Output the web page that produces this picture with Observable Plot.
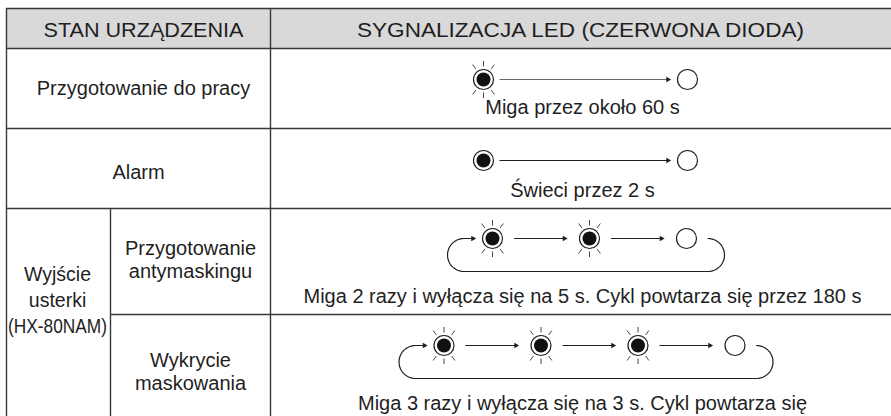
<!DOCTYPE html>
<html><head><meta charset="utf-8">
<script src="https://cdn.jsdelivr.net/npm/d3@7"></script>
<script src="https://cdn.jsdelivr.net/npm/@observablehq/plot@0.6"></script>
<style>
html,body{margin:0;padding:0;background:#fff;}
#chart svg{display:block;}
</style>
</head><body><div id="chart"></div>
<script>
// ---- data ----
const headers = ["STAN URZĄDZENIA", "SYGNALIZACJA LED (CZERWONA DIODA)"];
const states = ["Przygotowanie do pracy", "Alarm", "Przygotowanie\nantymaskingu", "Wykrycie\nmaskowania"];
const groupLabel = ["Wyjście", "usterki", "(HX-80NAM)"];
const ledSequences = [["blink","off"], ["on","off"], ["blink","blink","off"], ["blink","blink","blink","off"]];
const cycles = [false, false, true, true];
const descriptions = [
  "Miga przez około 60 s",
  "Świeci przez 2 s",
  "Miga 2 razy i wyłącza się na 5 s. Cykl powtarza się przez 180 s",
  "Miga 3 razy i wyłącza się na 3 s. Cykl powtarza się"
];

// ---- layout (pixels) ----
const W = 891, H = 416;
const colX = {left: 6, sub: 110, mid: 270, right: W};
const rowY = [8, 48, 128, 208, 314, H + 2];
const ledY = [79, 160, 238, 345];
const descY = [107, 190, 296, 403];
const stateY = [87, 171, 259, 371];
const stateX = [143, 138, 190, 190];
const ink = "#1f1f1f", lineCol = "#383838";
const font = "'Liberation Sans', Arial, Helvetica, sans-serif";

const hLines = [
  {y: rowY[0], x1: colX.left, x2: W},
  {y: rowY[1], x1: colX.left, x2: W},
  {y: rowY[2], x1: colX.left, x2: W},
  {y: rowY[3], x1: colX.left, x2: W},
  {y: rowY[4], x1: colX.sub, x2: W}
];
const vLines = [
  {x: colX.left, y1: rowY[0], y2: H},
  {x: colX.mid, y1: rowY[0], y2: H},
  {x: colX.sub, y1: rowY[3], y2: H}
];

// LED positions
const leds = [], arrows = [], heads = [], rays = [], loops = [];
ledSequences.forEach((seq, r) => {
  const n = seq.length;
  const cyc = cycles[r];
  const spacing = cyc ? 97 : 204;
  const cx = cyc ? 589 : 585;
  const y = ledY[r];
  const xs = seq.map((_, i) => cx + (i - (n - 1) / 2) * spacing);
  seq.forEach((s, i) => {
    leds.push({x: xs[i], y, state: s});
    if (s === "blink") {
      [-90, -126, -54, 90, 126, 54].forEach(a => {
        const t = a * Math.PI / 180;
        rays.push({x1: xs[i] + 13 * Math.cos(t), y1: y + 13 * Math.sin(t), x2: xs[i] + 18.5 * Math.cos(t), y2: y + 18.5 * Math.sin(t)});
      });
    }
  });
  const g1 = cyc ? 21.5 : 16, g2 = cyc ? 22.5 : 17;
  for (let i = 0; i < n - 1; i++) {
    const tip = xs[i + 1] - g2;
    arrows.push({x1: xs[i] + g1, x2: tip - 3, y, stroke: r === 0 ? "#6a6a6a" : ink});
    heads.push({x: tip - 2.6, y});
  }
  if (cyc) {
    const R = 16.5;
    const tip = xs[0] - 17;
    const lcx = xs[0] - 45 + R, rcx = xs[n - 1] + 38 - R, cy = y + R;
    const pts = [];
    pts.push({x: tip - 3, y});
    for (let k = 0; k <= 24; k++) {
      const t = -Math.PI / 2 - Math.PI * k / 24;
      pts.push({x: lcx + R * Math.cos(t), y: cy + R * Math.sin(t)});
    }
    for (let k = 0; k <= 24; k++) {
      const t = Math.PI / 2 - Math.PI * k / 24;
      pts.push({x: rcx + R * Math.cos(t), y: cy + R * Math.sin(t)});
    }
    pts.forEach(p => loops.push({...p, row: r}));
    heads.push({x: tip - 2.6, y});
  }
});

const stateTexts = states.map((t, i) => ({text: t, x: stateX[i], y: stateY[i]}));
const descTexts = descriptions.map((t, i) => ({text: t, x: 582, y: descY[i]}));
const headerTexts = headers.map((t, i) => ({text: t, x: i === 0 ? 143 : 580, y: 30}));

const chart = Plot.plot({
  width: W, height: H,
  margin: 0,
  x: {domain: [0, W], range: [0, W], axis: null},
  y: {domain: [0, H], range: [0, H], axis: null},
  style: {background: "#fff", fontFamily: font},
  marks: [
    Plot.rect([0], {x1: () => colX.left, x2: () => W, y1: () => rowY[0], y2: () => rowY[1], fill: "#d9d9d9"}),
    Plot.ruleY(hLines, {y: "y", x1: "x1", x2: "x2", stroke: lineCol, strokeWidth: 1.4}),
    Plot.ruleX(vLines, {x: "x", y1: "y1", y2: "y2", stroke: lineCol, strokeWidth: 1.4}),
    Plot.text(headerTexts, {x: "x", y: "y", text: "text", fontSize: 19.5, fill: ink, fontFamily: font}),
    Plot.text(stateTexts, {x: "x", y: "y", text: "text", fontSize: 20, lineHeight: 1.15, fill: ink, fontFamily: font}),
    Plot.text(groupLabel, {x: () => 57, y: (d, i) => 274 + i * 26, text: d => d, fontSize: 19.5, fill: ink, fontFamily: font}),
    Plot.text(descTexts, {x: "x", y: "y", text: "text", fontSize: 20, fill: ink, fontFamily: font}),
    // arrows
    Plot.link(arrows, {x1: "x1", x2: "x2", y1: "y", y2: "y", stroke: "stroke", strokeWidth: 1.1}),
    Plot.line(loops, {x: "x", y: "y", z: "row", stroke: ink, strokeWidth: 1.2, curve: "linear"}),
    Plot.dot(heads, {x: "x", y: "y", symbol: "triangle", rotate: 90, r: 2.1, fill: ink, stroke: "none"}),
    // LEDs
    Plot.link(rays, {x1: "x1", y1: "y1", x2: "x2", y2: "y2", stroke: "#333", strokeWidth: 0.9}),
    Plot.dot(leds, {x: "x", y: "y", r: 10, fill: "#fff", stroke: ink, strokeWidth: 1.2}),
    Plot.dot(leds.filter(d => d.state !== "off"), {x: "x", y: "y", r: 7, fill: "#111", stroke: "none"})
  ]
});

// stretch / fit texts like the original
const fit = {};
fit[headers[0]] = 200;
fit[headers[1]] = 447;
fit[groupLabel[2]] = 99;
d3.select(chart).selectAll("text").each(function() {
  const t = this.textContent;
  if (fit[t]) { this.setAttribute("textLength", fit[t]); this.setAttribute("lengthAdjust", "spacingAndGlyphs"); }
});
document.getElementById("chart").appendChild(chart);
</script>
</body></html>
